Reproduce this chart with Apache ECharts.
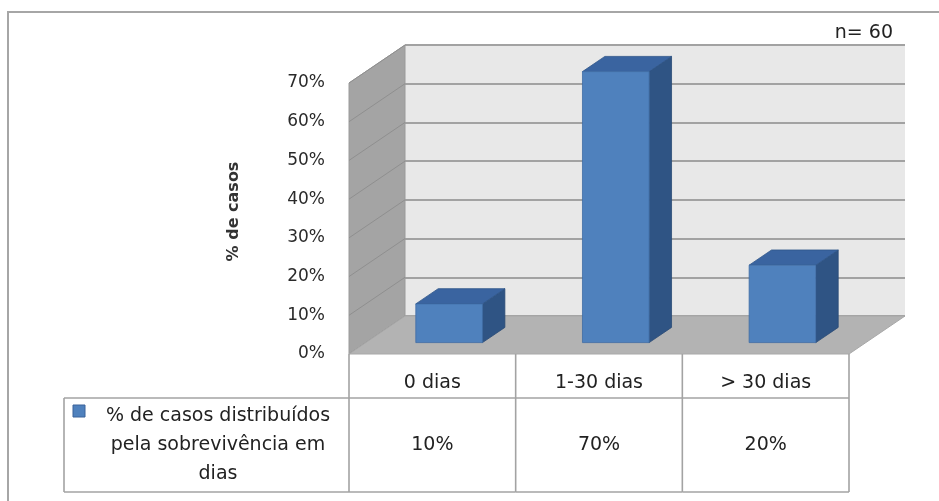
<!DOCTYPE html>
<html>
<head>
<meta charset="utf-8">
<script src="https://cdn.jsdelivr.net/npm/echarts@6/dist/echarts.min.js"></script>
<style>
  html, body { margin: 0; padding: 0; background: #ffffff; }
  #chart { width: 939px; height: 501px; }
</style>
</head>
<body>
<div id="chart"></div>
<script>
// Survival groups and the share of cases in each
const categories = ['0 dias', '1-30 dias', '> 30 dias'];
const percentValues = [10, 70, 20];
const yTicks = [0, 10, 20, 30, 40, 50, 60, 70];
const seriesName = '% de casos distribuídos\npela sobrevivência em\ndias';
const axisTitle = '% de casos';
const sampleNote = 'n= 60';

// Pseudo-3D box: offset from the front plane to the back wall
const DEPTH = [56, -38];
const BAR_FRONT = 0.3;   // bar front face, as a fraction of the box depth
const BAR_BACK = 0.7;    // bar back face
const BAR_WIDTH = 0.4;   // bar width, fraction of a category band

const FRONT = { left: 349, top: 83, width: 500, height: 271 };
const BACK = { left: FRONT.left + DEPTH[0], top: FRONT.top + DEPTH[1], width: FRONT.width, height: FRONT.height };

// Data table rows under the floor
const HEADER_H = 44;
const TABLE_BOTTOM = 492;
const TABLE_LEFT = 64;

const FONT = '"DejaVu Sans", sans-serif';
const TEXT_COLOR = '#222222';
const LINE_GRAY = '#a3a3a3';

const yMax = yTicks[yTicks.length - 1];
const yStep = yTicks[1] - yTicks[0];

function bandOf(api) { return api.size([1, 0])[0]; }

// Side wall + floor of the box
function renderBox(params, api) {
  const band = bandOf(api);
  const x0 = api.coord([0, 0])[0] - band / 2;
  const x1 = api.coord([categories.length - 1, 0])[0] + band / 2;
  const y0 = api.coord([0, 0])[1];
  const yTop = api.coord([0, yMax])[1];
  const [dx, dy] = DEPTH;
  const children = [];
  children.push({
    type: 'polygon',
    shape: { points: [[x0, y0], [x0, yTop], [x0 + dx, yTop + dy], [x0 + dx, y0 + dy]] },
    style: { fill: '#a4a4a4', stroke: '#9a9a9a', lineWidth: 1 }
  });
  yTicks.forEach(t => {
    const y = api.coord([0, t])[1];
    children.push({
      type: 'line',
      shape: { x1: x0, y1: y, x2: x0 + dx, y2: y + dy },
      style: { stroke: '#8f8f8f', lineWidth: 1 }
    });
  });
  children.push({
    type: 'polygon',
    shape: { points: [[x0, y0], [x1, y0], [x1 + dx, y0 + dy], [x0 + dx, y0 + dy]] },
    style: { fill: '#b3b3b3', stroke: '#a8a8a8', lineWidth: 1 }
  });
  return { type: 'group', children };
}

// One 3D column per category
function renderBar(params, api) {
  const i = api.value(0);
  const v = api.value(1);
  const base = api.coord([i, 0]);
  const top = api.coord([i, v]);
  const band = bandOf(api);
  const w = band * BAR_WIDTH;
  const h = base[1] - top[1];
  const fx = base[0] - w / 2 + DEPTH[0] * BAR_FRONT;
  const fy = base[1] + DEPTH[1] * BAR_FRONT;
  const ddx = DEPTH[0] * (BAR_BACK - BAR_FRONT);
  const ddy = DEPTH[1] * (BAR_BACK - BAR_FRONT);
  const ty = fy - h;
  return {
    type: 'group',
    children: [
      {
        type: 'polygon',
        shape: { points: [[fx + w, fy], [fx + w, ty], [fx + w + ddx, ty + ddy], [fx + w + ddx, fy + ddy]] },
        style: { fill: '#2f5484', stroke: '#2a4a75', lineWidth: 0.8 }
      },
      {
        type: 'polygon',
        shape: { points: [[fx, ty], [fx + w, ty], [fx + w + ddx, ty + ddy], [fx + ddx, ty + ddy]] },
        style: { fill: '#3a64a0', stroke: '#2f5689', lineWidth: 0.8 }
      },
      {
        type: 'rect',
        shape: { x: fx, y: ty, width: w, height: h },
        style: { fill: '#4f81bd', stroke: '#3f6ca5', lineWidth: 0.8 }
      }
    ]
  };
}

// Data table: column lines, value cells and the series key
function renderTable(params, api) {
  const i = api.value(0);
  const v = api.value(1);
  const band = bandOf(api);
  const c = api.coord([i, 0]);
  const y0 = c[1];
  const rowY = y0 + HEADER_H;
  const left = c[0] - band / 2;
  const right = c[0] + band / 2;
  const lineStyle = { stroke: LINE_GRAY, lineWidth: 1.6 };
  const children = [
    { type: 'line', shape: { x1: left, y1: y0, x2: left, y2: TABLE_BOTTOM }, style: lineStyle },
    { type: 'line', shape: { x1: left, y1: rowY, x2: right, y2: rowY }, style: lineStyle },
    { type: 'line', shape: { x1: left, y1: TABLE_BOTTOM, x2: right, y2: TABLE_BOTTOM }, style: lineStyle },
    {
      type: 'text',
      style: {
        text: v + '%', x: c[0], y: (rowY + TABLE_BOTTOM) / 2,
        align: 'center', verticalAlign: 'middle', textAlign: 'center', textVerticalAlign: 'middle',
        font: '19px ' + FONT, fill: TEXT_COLOR
      }
    }
  ];
  if (i === categories.length - 1) {
    children.push({ type: 'line', shape: { x1: right, y1: y0, x2: right, y2: TABLE_BOTTOM }, style: lineStyle });
  }
  if (i === 0) {
    children.push(
      { type: 'line', shape: { x1: TABLE_LEFT, y1: rowY, x2: left, y2: rowY }, style: lineStyle },
      { type: 'line', shape: { x1: TABLE_LEFT, y1: TABLE_BOTTOM, x2: left, y2: TABLE_BOTTOM }, style: lineStyle },
      { type: 'line', shape: { x1: TABLE_LEFT, y1: rowY, x2: TABLE_LEFT, y2: TABLE_BOTTOM }, style: lineStyle },
      {
        type: 'rect',
        shape: { x: TABLE_LEFT + 9, y: rowY + 7, width: 12, height: 12 },
        style: { fill: '#4f81bd', stroke: '#3a639a', lineWidth: 1 }
      },
      {
        type: 'text',
        style: {
          text: seriesName, x: 218, y: (rowY + TABLE_BOTTOM) / 2,
          align: 'center', verticalAlign: 'middle', textAlign: 'center', textVerticalAlign: 'middle',
          font: '19px ' + FONT, lineHeight: 29, fill: TEXT_COLOR
        }
      }
    );
  }
  return { type: 'group', children };
}

const barData = percentValues.map((v, i) => [i, v]);

const option = {
  animation: false,
  backgroundColor: '#ffffff',
  grid: [
    { left: FRONT.left, top: FRONT.top, width: FRONT.width, height: FRONT.height },
    { left: BACK.left, top: BACK.top, width: BACK.width, height: BACK.height }
  ],
  xAxis: [
    {
      type: 'category', gridIndex: 0, data: categories,
      axisLine: { show: false }, axisTick: { show: false },
      axisLabel: { margin: 20, fontFamily: FONT, fontSize: 19, color: TEXT_COLOR }
    },
    { type: 'category', gridIndex: 1, data: categories, show: false }
  ],
  yAxis: [
    {
      type: 'value', gridIndex: 0, min: 0, max: yMax, interval: yStep,
      axisLine: { show: false }, axisTick: { show: false }, splitLine: { show: false },
      axisLabel: { margin: 24, fontFamily: FONT, fontSize: 17, color: '#2a2a2a', formatter: '{value}%' },
      name: axisTitle, nameLocation: 'middle', nameGap: 93,
      nameTextStyle: { fontFamily: FONT, fontSize: 16, fontWeight: 'bold', color: '#333333', padding: [0, 0, 14, 14] }
    },
    {
      type: 'value', gridIndex: 1, min: 0, max: yMax, interval: yStep,
      axisLine: { show: false }, axisTick: { show: false }, axisLabel: { show: false },
      splitLine: { show: true, lineStyle: { color: '#a2a2a2', width: 2 } },
      splitArea: { show: true, areaStyle: { color: ['#e8e8e8'] } }
    }
  ],
  series: [
    {
      type: 'custom', name: 'caixa', xAxisIndex: 0, yAxisIndex: 0,
      data: [[0, 0]], renderItem: renderBox, z: 2, silent: true
    },
    {
      type: 'custom', name: seriesName, xAxisIndex: 0, yAxisIndex: 0,
      data: barData, renderItem: renderBar, z: 3
    },
    {
      type: 'custom', name: 'tabela', xAxisIndex: 0, yAxisIndex: 0,
      data: barData, renderItem: renderTable, z: 4, silent: true
    }
  ],
  graphic: [
    {
      type: 'rect', z: 0, silent: true,
      shape: { x: 8, y: 12, width: 960, height: 520 },
      style: { fill: 'none', stroke: '#a6a6a6', lineWidth: 2 }
    },
    {
      type: 'text', silent: true,
      style: {
        text: sampleNote, x: 893, y: 33,
        align: 'right', verticalAlign: 'middle', textAlign: 'right', textVerticalAlign: 'middle',
        font: '19px ' + FONT, fill: TEXT_COLOR
      }
    }
  ]
};

const chart = echarts.init(document.getElementById('chart'), null, { renderer: 'canvas' });
chart.setOption(option);
</script>
</body>
</html>
